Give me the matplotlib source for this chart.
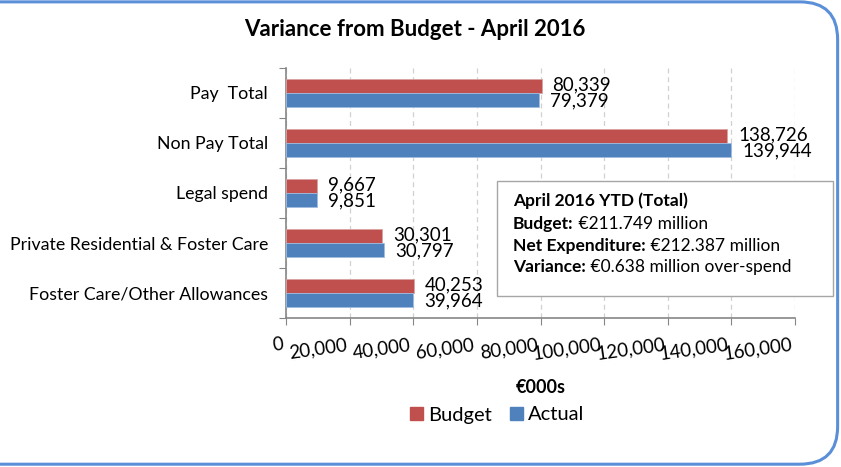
import matplotlib
matplotlib.use("Agg")
import matplotlib.pyplot as plt
import matplotlib.transforms as mtransforms
from matplotlib.patches import FancyBboxPatch, Rectangle
import numpy as np

plt.rcParams['font.family'] = ['Lato', 'DejaVu Sans']

categories = ["Pay  Total", "Non Pay Total", "Legal spend",
              "Private Residential & Foster Care", "Foster Care/Other Allowances"]
budget = [80339, 138726, 9667, 30301, 40253]
actual = [79379, 139944, 9851, 30797, 39964]
series_names = ["Budget", "Actual"]
xticks = [0, 20000, 40000, 60000, 80000, 100000, 120000, 140000, 160000]
title = "Variance from Budget - April 2016"
xlabel = "€000s"
box_lines = [("April 2016 YTD (Total)", ""),
             ("Budget:", " €211.749 million"),
             ("Net Expenditure:", " €212.387 million"),
             ("Variance:", " €0.638 million over-spend")]

c_budget = "#C0504D"
c_actual = "#4F81BD"

W, H = 841, 467
fig = plt.figure(figsize=(W / 100, H / 100), dpi=100)

# rounded border
border = FancyBboxPatch((-0.05, 0.006), 1.046, 0.99, boxstyle="round,pad=0,rounding_size=0.045",
                        transform=fig.transFigure, facecolor="none", edgecolor="#5B8FD8",
                        linewidth=2.2, mutation_aspect=W / H, zorder=10)
fig.patches.append(border)

ax = fig.add_axes([286 / W, 1 - 318 / H, (795 - 286) / W, (318 - 68) / H])
ax.set_facecolor("none")

y = np.arange(len(categories))
h = 0.28
ax.barh(y - h / 2, budget, height=h, color=c_budget, edgecolor="#D9A3A1", linewidth=0.6, zorder=3)
ax.barh(y + h / 2, actual, height=h, color=c_actual, edgecolor="#9FBCE0", linewidth=0.6, zorder=3)

for yi, v in zip(y, budget):
    ax.annotate(f"{v:,}", (v, yi - 0.17), xytext=(11, 0), textcoords="offset pixels",
                va="center", ha="left", fontsize=13.5, color="black")
for yi, v in zip(y, actual):
    ax.annotate(f"{v:,}", (v, yi + 0.16), xytext=(11, 0), textcoords="offset pixels",
                va="center", ha="left", fontsize=13.5, color="black")

ax.set_ylim(len(categories) - 0.5, -0.5)
ax.set_xlim(0, 160000)
ax.set_yticks(np.arange(len(categories) + 1) - 0.5, minor=False)
ax.set_yticklabels([])
ax.set_yticks(y, minor=True)
ax.set_yticklabels(categories, minor=True, fontsize=12.8)
ax.tick_params(axis="y", which="minor", length=0, pad=13)
ax.tick_params(axis="y", which="major", length=5, color="#868686", direction="out")

ax.set_xticks(xticks)
ax.set_xticklabels([f"{t:,}" for t in xticks], fontsize=13.5, rotation=8,
                   ha="right", rotation_mode="anchor")
ax.tick_params(axis="x", length=5, color="#868686", pad=8)
shift = mtransforms.ScaledTranslation(-4 / 100, 0, fig.dpi_scale_trans)
for lbl in ax.get_xticklabels():
    lbl.set_transform(lbl.get_transform() + shift)

ax.grid(axis="x", color="#D0D0D0", linestyle=(0, (4, 3)), linewidth=0.9, zorder=0)
for s in ["top", "right"]:
    ax.spines[s].set_visible(False)
for s in ["left", "bottom"]:
    ax.spines[s].set_color("#868686")
    ax.spines[s].set_linewidth(1.2)

ax.set_xlabel(xlabel, fontsize=13, fontweight="bold", labelpad=12)

fig.text(415 / W, 1 - 30 / H, title, ha="center", va="center", fontsize=16, fontweight="bold")

# info box
bx0, by0, bx1, by1 = 497, 181, 833, 296
rect = Rectangle((bx0 / W, 1 - by1 / H), (bx1 - bx0) / W, (by1 - by0) / H,
                 transform=fig.transFigure, facecolor="white", edgecolor="#A6A6A6",
                 linewidth=1.0, zorder=5)
fig.patches.append(rect)
line_y = [201, 224, 246, 267]
renderer = fig.canvas.get_renderer()
for (bold, rest), ly in zip(box_lines, line_y):
    t = fig.text(513 / W, 1 - ly / H, bold, ha="left", va="center", fontsize=12.5,
                 fontweight="bold", zorder=6)
    if rest:
        bbox = t.get_window_extent(renderer=renderer)
        fig.text(bbox.x1 / W, 1 - ly / H, rest, ha="left", va="center", fontsize=12.5, zorder=6)

# legend
handles = [Rectangle((0, 0), 1, 1, color=c_budget), Rectangle((0, 0), 1, 1, color=c_actual)]
fig.legend(handles, series_names, loc="center", bbox_to_anchor=(497 / W, 1 - 415 / H),
           ncol=2, frameon=False, fontsize=14.5, handlelength=0.65, handleheight=0.65,
           handletextpad=0.25, columnspacing=0.9)

fig.savefig("out.png", dpi=100)
